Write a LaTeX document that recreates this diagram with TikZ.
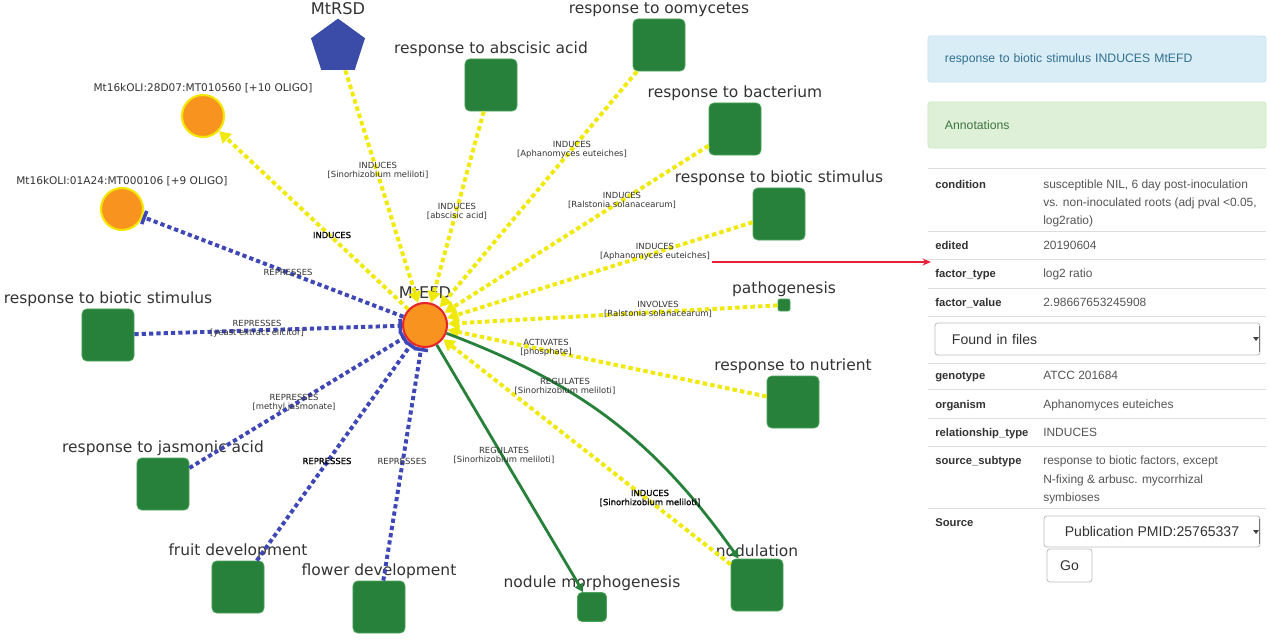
\documentclass[tikz,border=0pt]{standalone}
\usepackage{fontspec}
\setmainfont{DejaVu Sans}
\newfontfamily\panelfont{Liberation Sans}
\newfontfamily\heavyfont[FakeBold=1.2]{DejaVu Sans}
\usetikzlibrary{arrows.meta,shapes.geometric}
\definecolor{sqgreen}{HTML}{27813A}
\definecolor{sqedge}{HTML}{4CA35A}
\definecolor{yel}{HTML}{EFEA0C}
\definecolor{blu}{HTML}{3E47B5}
\definecolor{pentblue}{HTML}{3B4BA8}
\definecolor{orng}{HTML}{F7931E}
\definecolor{redb}{HTML}{E8262A}
\definecolor{oliyel}{HTML}{F3E600}
\definecolor{txt}{HTML}{333333}
\definecolor{hdrfill}{HTML}{D9EDF7}
\definecolor{hdrdraw}{HTML}{C6E5F2}
\definecolor{hdrtext}{HTML}{31708F}
\definecolor{annofill}{HTML}{DFF0D8}
\definecolor{annodraw}{HTML}{D0E9C6}
\definecolor{annotext}{HTML}{3C763D}
\definecolor{sepline}{HTML}{DDDDDD}
\definecolor{arrred}{HTML}{E8203A}
\definecolor{valtext}{HTML}{555555}
\begin{document}
\begin{tikzpicture}[x=0.025cm,y=-0.025cm,
  sq/.style={rectangle, rounded corners=3.5pt, fill=sqgreen, draw=sqedge, line width=0.6pt, minimum size=1.3cm, inner sep=0pt},
  smallsq/.style={sq, rounded corners=1.5pt, minimum size=0.3cm},
  medsq/.style={sq, rounded corners=3pt, minimum size=0.72cm},
  nlbl/.style={inner sep=0pt, label distance=1pt, text=txt, font=\fontsize{11}{13}\selectfont},
  olbl/.style={inner sep=0pt, label distance=0.5pt, text=txt, font=\fontsize{7.5}{9}\selectfont},
  hub/.style={circle, fill=orng, draw=redb, line width=1.5pt, minimum size=1.1cm, inner sep=0pt},
  oligo/.style={circle, fill=orng, draw=oliyel, line width=1.5pt, minimum size=1.05cm, inner sep=0pt},
  pent/.style={regular polygon, regular polygon sides=5, minimum size=1.42cm, fill=pentblue, inner sep=0pt},
  yedge/.style={draw=yel, line width=2.8pt, dash pattern=on 3.2pt off 2.2pt, -{Triangle[length=8pt,width=9pt]}},
  bedge/.style={draw=blu, line width=2.8pt, dash pattern=on 3pt off 2.2pt, -{Bar[width=10pt,line width=2.5pt]}},
  gedge/.style={draw=sqgreen, line width=2pt, -{Triangle[length=6pt,width=6.5pt]}},
  elbl/.style={font=\fontsize{6}{6.5}\selectfont, text=txt, align=center, inner sep=0pt},
  elblk/.style={elbl, text=black, font=\heavyfont\fontsize{6}{6.5}\selectfont},
  tlabel/.style={font=\panelfont\bfseries\fontsize{8}{10}\selectfont, text=txt, anchor=base west, inner sep=0pt},
  tval/.style={font=\panelfont\fontsize{8.5}{10}\selectfont, text=valtext, anchor=base west, inner sep=0pt},
  panelbox/.style={rectangle, rounded corners=2pt, line width=0.6pt, minimum width=8.45cm, minimum height=1.15cm, inner xsep=0.425cm, text width=7.6cm, align=left, font=\panelfont\fontsize{8.7}{10}\selectfont},
  ddbox/.style={rectangle, rounded corners=2pt, draw=black!25, line width=0.6pt, font=\panelfont\fontsize{10}{12}\selectfont, text=txt}
]
\useasboundingbox (0,0) rectangle (1270,639);
\fill[white] (0,0) rectangle (1270,639);

% ---------- graph nodes ----------
\node[hub] (efd) at (425,325) {};
\node[inner sep=0pt, text=txt, font=\fontsize{11.5}{13}\selectfont] (efdl) at (425,293) {MtEFD};
\node[pent] (rsd) at (338,47) {};
\node[inner sep=0pt, text=txt, font=\fontsize{11.5}{13}\selectfont] (rsdl) at (338,9) {MtRSD};
\node[oligo, label={[olbl]above:{Mt16kOLI:28D07:MT010560 [+10 OLIGO]}}] (o28) at (203,116) {};
\node[oligo, label={[olbl]above:{Mt16kOLI:01A24:MT000106 [+9 OLIGO]}}] (o01) at (122,209) {};

\node[sq, label={[nlbl]above:response to abscisic acid}] (abs) at (491,85) {};
\node[sq, label={[nlbl]above:response to oomycetes}] (oomy) at (659,45) {};
\node[sq, label={[nlbl]above:response to bacterium}] (bact) at (735,129) {};
\node[sq, label={[nlbl]above:response to biotic stimulus}] (bioR) at (779,214) {};
\node[smallsq, label={[nlbl]above:pathogenesis}] (path) at (784,305) {};
\node[sq, label={[nlbl]above:response to nutrient}] (nutr) at (793,402) {};
\node[sq, label={[nlbl]above:nodulation}] (nodul) at (757,585) {};
\node[medsq, label={[nlbl]above:nodule morphogenesis}] (morph) at (592,607) {};
\node[sq, label={[nlbl]above:flower development}] (flower) at (379,607) {};
\node[sq, label={[nlbl]above:fruit development}] (fruit) at (238,587) {};
\node[sq, label={[nlbl]above:response to jasmonic acid}] (jasm) at (163,484) {};
\node[sq, label={[nlbl]above:response to biotic stimulus}] (bioL) at (108,335) {};

% ---------- edges ----------
\draw[yedge] (rsd) -- (efd);
\draw[yedge] (abs) -- (efd);
\draw[yedge] (oomy) -- (efd);
\draw[yedge] (bact) -- (efd);
\draw[yedge] (bioR) -- (efd);
\draw[yedge] (path) -- (efd);
\draw[yedge] (nutr) -- (efd);
\draw[yedge] (nodul) -- (efd);
\draw[yedge] (efd) -- (o28);
\draw[bedge] (efd) -- (o01);
\draw[bedge] (bioL) -- (efd);
\draw[bedge] (jasm) -- (efd);
\draw[bedge] (fruit) -- (efd);
\draw[bedge] (flower) -- (efd);
\draw[gedge] (efd) -- (morph);
\draw[gedge] (efd) to[bend left=17] (nodul);

% ---------- edge labels ----------
\node[elbl] (l1) at (378,170) {INDUCES\\{}[Sinorhizobium meliloti]};
\node[elbl] (l2) at (457,211) {INDUCES\\{}[abscisic acid]};
\node[elbl] (l3) at (572,150) {INDUCES\\{}[Aphanomyces euteiches]};
\node[elbl] (l4) at (622,200) {INDUCES\\{}[Ralstonia solanacearum]};
\node[elbl] (l5) at (655,252) {INDUCES\\{}[Aphanomyces euteiches]};
\node[elbl] (l6) at (658,309) {INVOLVES\\{}[Ralstonia solanacearum]};
\node[elbl] (l7) at (546,348) {ACTIVATES\\{}[phosphate]};
\node[elbl] (l8) at (565,386) {REGULATES\\{}[Sinorhizobium meliloti]};
\node[elblk] (l9) at (650,498) {INDUCES\\{}[Sinorhizobium meliloti]};
\node[elbl] (l10) at (504,455) {REGULATES\\{}[Sinorhizobium meliloti]};
\node[elbl] (l11) at (402,461) {REPRESSES};
\node[elblk] (l12) at (327,461) {REPRESSES};
\node[elbl] (l13) at (294,403) {REPRESSES\\{}[methyl jasmonate]};
\node[elbl] (l14) at (257,329) {REPRESSES\\{}[yeast extract elicitor]};
\node[elbl] (l15) at (288,272) {REPRESSES};
\node[elblk] (l16) at (332,235) {INDUCES};

% ---------- red pointer ----------
\coordinate (ra) at (712,262);
\coordinate (rb) at (931,262);
\draw[arrred, line width=1.1pt, -{Stealth[length=6pt,width=5pt]}] (ra) -- (rb);

% ---------- right panel ----------
\node[panelbox, fill=hdrfill, draw=hdrdraw, text=hdrtext] (hdr) at (1097,59) {response to biotic stimulus INDUCES MtEFD};
\node[panelbox, fill=annofill, draw=annodraw, text=annotext] (anno) at (1097,125) {Annotations};

\foreach \yy in {168,231,259,288,316,363,389,418,446,508}
  \draw[sepline, line width=0.7pt] (928,\yy) -- (1266,\yy);

\node[tlabel] (kcond) at (935,188) {condition};
\node[tval] (vcond1) at (1043,188) {susceptible NIL, 6 day post-inoculation};
\node[tval] (vcond2) at (1043,206) {vs. non-inoculated roots (adj pval <0.05,};
\node[tval] (vcond3) at (1043,224) {log2ratio)};
\node[tlabel] (kedit) at (935,249) {edited};
\node[tval] (vedit) at (1043,249) {20190604};
\node[tlabel] (kft) at (935,277) {factor\_type};
\node[tval] (vft) at (1043,277) {log2 ratio};
\node[tlabel] (kfv) at (935,306) {factor\_value};
\node[tval] (vfv) at (1043,306) {2.98667653245908};

\node[ddbox, minimum width=8.125cm, minimum height=0.8cm, inner xsep=0.425cm, text width=7.275cm, align=left] (dd1) at (1097.5,339) {Found in files};
\fill[black!75] (1253,337) -- (1259,337) -- (1256,341) -- cycle;
\draw[black!55, line width=1pt] (1259.5,326) -- (1259.5,352);

\node[tlabel] (kgeno) at (935,379) {genotype};
\node[tval] (vgeno) at (1043,379) {ATCC 201684};
\node[tlabel] (korg) at (935,408) {organism};
\node[tval] (vorg) at (1043,408) {Aphanomyces euteiches};
\node[tlabel] (krel) at (935,436) {relationship\_type};
\node[tval] (vrel) at (1043,436) {INDUCES};
\node[tlabel] (ksub) at (935,464) {source\_subtype};
\node[tval] (vsub1) at (1043,464) {response to biotic factors, except};
\node[tval] (vsub2) at (1043,483) {N-fixing \& arbusc. mycorrhizal};
\node[tval] (vsub3) at (1043,501) {symbioses};
\node[tlabel] (ksrc) at (935,526) {Source};

\node[ddbox, minimum width=5.4cm, minimum height=0.775cm] (dd2) at (1152,531.5) {Publication PMID:25765337};
\fill[black!75] (1253,530) -- (1259,530) -- (1256,534) -- cycle;
\draw[black!55, line width=1pt] (1259.5,519) -- (1259.5,544);
\node[ddbox, minimum width=1.125cm, minimum height=0.825cm] (go) at (1069.5,565.5) {Go};
\end{tikzpicture}
\end{document}
